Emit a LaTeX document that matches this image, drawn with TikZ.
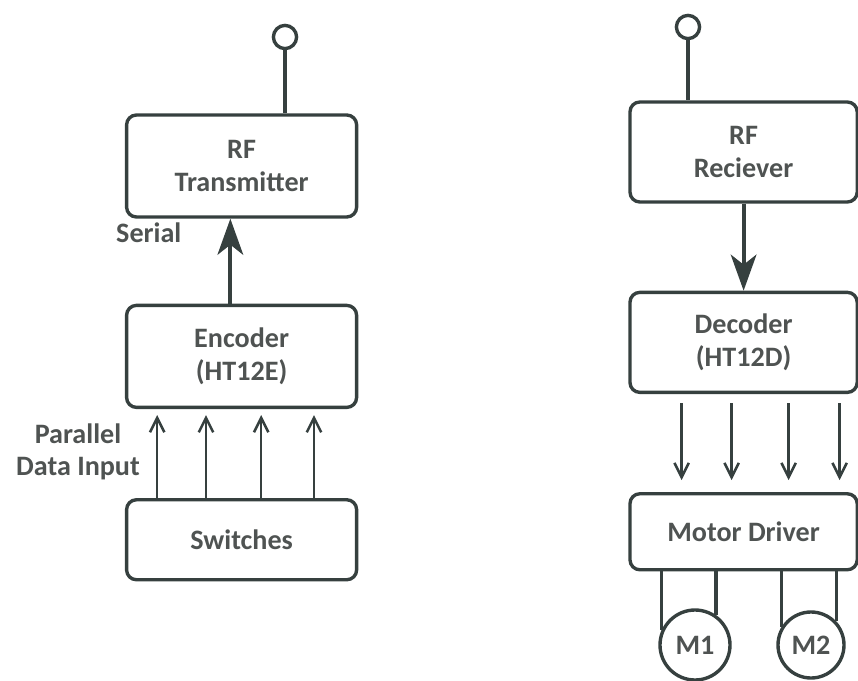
\documentclass[tikz,border=0pt]{standalone}
\usepackage{fontspec}
\setmainfont{Carlito}
\usetikzlibrary{arrows.meta, positioning}
\definecolor{lineGray}{HTML}{36403F}
\definecolor{textGray}{HTML}{4F5352}

\begin{document}
\begin{tikzpicture}[
    block/.style={rectangle, rounded corners=7pt, draw=lineGray, line width=2.4pt,
                  minimum width=5.75cm, minimum height=2.55cm, align=center,
                  font=\bfseries\fontsize{20}{23}\selectfont, text=textGray},
    antenna/.style={circle, draw=lineGray, line width=2.4pt, minimum size=0.58cm,
                    inner sep=0pt},
    motor/.style={circle, draw=lineGray, line width=2.4pt, inner sep=0pt,
                  font=\bfseries\fontsize{20}{23}\selectfont, text=textGray},
    label/.style={align=center, font=\bfseries\fontsize{20}{23}\selectfont,
                  text=textGray},
    wire/.style={draw=lineGray, line width=2.4pt},
    bigarrow/.style={draw=lineGray, line width=3pt,
                     -{Stealth[length=9mm, width=6.4mm, inset=2.5mm]}},
    datarrow/.style={draw=lineGray, line width=1.8pt,
                     -{Straight Barb[length=3.6mm, width=3.6mm]}},
  ]
    \useasboundingbox (0,0) rectangle (21.45,-17);

    % transmitter side
    \node[block] (tx) at (6.04,-4.15) {RF\\Transmitter};
    \node[block, below=2.125cm of tx] (enc) {Encoder\\(HT12E)};
    \node[block, below=2.225cm of enc, minimum height=2cm] (sw) {Switches};
    \node[antenna] (ant1) at (7.125,-0.925) {};
    \draw[wire] (ant1) -- (ant1 |- tx.north);
    \draw[bigarrow] ([xshift=-8pt]enc.north) -- ([xshift=-8pt]tx.south);
    \foreach \dx in {-2.11,-0.89,0.49,1.81}
      \draw[datarrow, shorten >=0.15cm] ([xshift=\dx cm]sw.north)
        -- ([xshift=\dx cm]enc.south);
    \node[label] (ser) at (3.72,-5.83) {Serial};
    \node[label] (par) at (1.95,-11.3) {Parallel\\Data Input};

    % receiver side
    \node[block, minimum width=5.68cm, minimum height=2.5cm] (rx) at (18.59,-3.8)
      {RF\\Reciever};
    \node[block, minimum width=5.68cm, minimum height=2.5cm, below=2.175cm of rx]
      (dec) {Decoder\\(HT12D)};
    \node[block, minimum width=5.68cm, minimum height=1.9cm, below=2.45cm of dec]
      (md) {Motor Driver};
    \node[antenna] (ant2) at (17.2,-0.675) {};
    \draw[wire] (ant2) -- (ant2 |- rx.north);
    \draw[bigarrow] (rx.south) -- (dec.north);
    \foreach \dx in {-1.55,-0.3,1.125,2.4}
      \draw[datarrow, shorten <=0.225cm, shorten >=0.3cm]
        ([xshift=\dx cm]dec.south) -- ([xshift=\dx cm]md.south |- md.north);
    \node[motor, minimum size=1.75cm] (m1) at (17.375,-16.125) {M1};
    \node[motor, minimum size=1.65cm] (m2) at (20.275,-16.125) {M2};
    \draw[wire] (m1.156 |- md.south) -- (m1.156);
    \draw[wire] (m1.55 |- md.south) -- (m1.55);
    \draw[wire] (m2.148 |- md.south) -- (m2.148);
    \draw[wire] (m2.43 |- md.south) -- (m2.43);
  \end{tikzpicture}
\end{document}
